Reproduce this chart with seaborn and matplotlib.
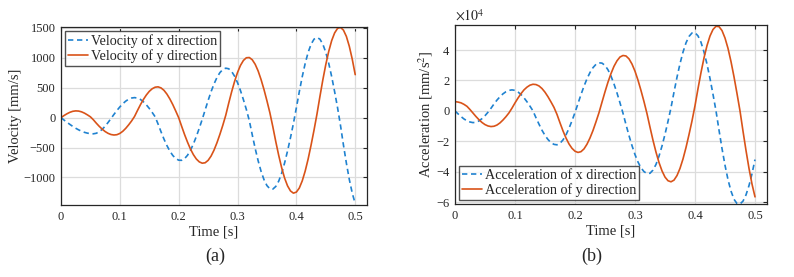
import numpy as np
import matplotlib
matplotlib.use("Agg")
import matplotlib.pyplot as plt
import seaborn as sns

time_s = np.round(np.arange(101) * 0.005, 3)

# velocity [mm/s]
vel_x = [0, -39, -76, -112, -146, -177, -204, -227, -246, -259,
         -267, -270, -261, -236, -196, -143, -81, -14, 54, 119,
         179, 232, 276, 308, 328, 335, 327, 304, 266, 215,
         155, 87, 15, -107, -236, -358, -466, -559, -632, -683,
         -711, -713, -685, -629, -546, -440, -315, -176, -29, 129,
         286, 433, 562, 670, 752, 805, 827, 817, 772, 693,
         585, 453, 301, 137, -48, -286, -514, -719, -897, -1037,
         -1136, -1189, -1194, -1150, -1061, -929, -757, -557, -334, -96,
         166, 434, 686, 907, 1091, 1227, 1312, 1340, 1312, 1227,
         1091, 907, 686, 434, 166, -131, -458, -761, -1035, -1263,
         -1438]
vel_y = [0, 34, 64, 89, 106, 113, 110, 97, 75, 46,
         14, -35, -92, -145, -192, -232, -262, -282, -290, -285,
         -264, -228, -179, -120, -55, 20, 120, 216, 303, 378,
         439, 483, 509, 515, 497, 457, 394, 313, 218, 111,
         0, -143, -282, -409, -524, -618, -691, -739, -761, -754,
         -714, -643, -544, -421, -280, -127, 40, 241, 432, 605,
         755, 873, 956, 1001, 1005, 968, 892, 781, 637, 469,
         281, 81, -152, -400, -631, -837, -1010, -1140, -1225, -1262,
         -1244, -1176, -1056, -892, -691, -458, -208, 59, 352, 633,
         888, 1108, 1288, 1416, 1492, 1509, 1463, 1357, 1191, 975,
         719]

# acceleration [x10^4 mm/s^2]
acc_x = [0, -0.19, -0.37, -0.53, -0.65, -0.73, -0.77, -0.75, -0.66, -0.51,
         -0.32, -0.09, 0.17, 0.45, 0.71, 0.93, 1.12, 1.26, 1.35, 1.38,
         1.35, 1.24, 1.08, 0.86, 0.60, 0.31, 0.00, -0.45, -0.87, -1.27,
         -1.61, -1.88, -2.09, -2.20, -2.23, -2.13, -1.91, -1.58, -1.15, -0.65,
         -0.11, 0.48, 1.07, 1.62, 2.11, 2.52, 2.84, 3.06, 3.16, 3.14,
         2.99, 2.70, 2.29, 1.77, 1.18, 0.53, -0.15, -0.90, -1.62, -2.28,
         -2.87, -3.36, -3.74, -3.99, -4.12, -4.10, -3.89, -3.52, -2.98, -2.31,
         -1.54, -0.69, 0.21, 1.23, 2.21, 3.10, 3.86, 4.47, 4.89, 5.12,
         5.14, 4.93, 4.51, 3.87, 3.07, 2.13, 1.09, 0.00, -1.26, -2.47,
         -3.57, -4.52, -5.27, -5.81, -6.09, -6.12, -5.93, -5.52, -4.91, -4.13,
         -3.20]
acc_y = [0.61, 0.58, 0.53, 0.43, 0.30, 0.09, -0.14, -0.37, -0.58, -0.76,
         -0.90, -0.99, -1.03, -1.01, -0.93, -0.79, -0.60, -0.38, -0.13, 0.18,
         0.52, 0.84, 1.13, 1.38, 1.56, 1.69, 1.75, 1.73, 1.64, 1.47,
         1.23, 0.93, 0.59, 0.23, -0.23, -0.78, -1.31, -1.78, -2.17, -2.46,
         -2.65, -2.73, -2.68, -2.50, -2.19, -1.78, -1.29, -0.72, -0.12, 0.57,
         1.25, 1.89, 2.45, 2.93, 3.29, 3.54, 3.64, 3.61, 3.42, 3.08,
         2.61, 2.02, 1.34, 0.61, -0.18, -1.07, -1.93, -2.71, -3.39, -3.94,
         -4.35, -4.59, -4.66, -4.55, -4.25, -3.78, -3.16, -2.41, -1.56, -0.66,
         0.34, 1.46, 2.52, 3.48, 4.29, 4.92, 5.35, 5.56, 5.54, 5.28,
         4.79, 4.11, 3.24, 2.24, 1.14, 0.00, -1.33, -2.60, -3.78, -4.81,
         -5.65]

x_ticks = [0, 0.1, 0.2, 0.3, 0.4, 0.5]
x_tick_labels = ["0", "0.1", "0.2", "0.3", "0.4", "0.5"]
vel_ticks = [-1000, -500, 0, 500, 1000, 1500]
acc_ticks = [-6, -4, -2, 0, 2, 4]

BLUE = "#1f82d0"
ORANGE = "#D95319"

sns.set_style("white")
plt.rcParams["font.family"] = ["Liberation Serif", "DejaVu Serif"]
plt.rcParams["mathtext.fontset"] = "stix"

fig = plt.figure(figsize=(7.94, 2.77), dpi=100)
ax1 = fig.add_axes([0.0768, 0.2599, 0.3854, 0.6426])
ax2 = fig.add_axes([0.5730, 0.2635, 0.3930, 0.6460])


def style_axes(ax):
    ax.grid(True, color="#dcdcdc", linewidth=0.9)
    ax.set_axisbelow(True)
    for s in ax.spines.values():
        s.set_color("#262626")
        s.set_linewidth(0.9)
    ax.tick_params(direction="in", length=3, width=0.8, top=True, right=True,
                   labelsize=9, colors="#262626", pad=4)
    ax.set_xticks(x_ticks)
    ax.set_xticklabels(x_tick_labels)
    ax.set_xlim(0, 0.52)


def style_legend(leg):
    leg.get_frame().set_edgecolor("#262626")
    leg.get_frame().set_linewidth(1.0)


# (a) velocity
sns.lineplot(x=time_s, y=vel_x, ax=ax1, color=BLUE, linewidth=1.2,
             label="Velocity of x direction")
ax1.lines[-1].set_dashes((3.2, 2.2))
sns.lineplot(x=time_s, y=vel_y, ax=ax1, color=ORANGE, linewidth=1.2,
             label="Velocity of y direction")
style_axes(ax1)
ax1.set_yticks(vel_ticks)
ax1.set_ylim(-1460, 1515)
ax1.set_xlabel("Time [s]", fontsize=10.5, labelpad=2)
ax1.set_ylabel("Velocity [mm/s]", fontsize=10.5, labelpad=1)
style_legend(ax1.legend(loc="upper left", fontsize=10.2, frameon=True, fancybox=False,
                        handlelength=1.4, handletextpad=0.2, borderpad=0.2,
                        labelspacing=0.1, borderaxespad=0.3))

# (b) acceleration
sns.lineplot(x=time_s, y=acc_x, ax=ax2, color=BLUE, linewidth=1.2,
             label="Acceleration of x direction")
ax2.lines[-1].set_dashes((3.2, 2.2))
sns.lineplot(x=time_s, y=acc_y, ax=ax2, color=ORANGE, linewidth=1.2,
             label="Acceleration of y direction")
style_axes(ax2)
ax2.set_yticks(acc_ticks)
ax2.set_ylim(-6.12, 5.64)
ax2.set_xlabel("Time [s]", fontsize=10.5, labelpad=2)
ax2.set_ylabel("Acceleration [mm/s$^2$]", fontsize=10.5, labelpad=1)
ax2.text(0.0, 1.01, r"$\times 10^4$", transform=ax2.transAxes, fontsize=10,
         color="#262626", ha="left", va="bottom")
style_legend(ax2.legend(loc="lower left", fontsize=10.2, frameon=True, fancybox=False,
                        handlelength=1.4, handletextpad=0.2, borderpad=0.2,
                        labelspacing=0.1, borderaxespad=0.3))

fig.text(0.271, 0.058, "(a)", fontsize=13, ha="center")
fig.text(0.745, 0.058, "(b)", fontsize=13, ha="center")

fig.savefig("out.png", dpi=100)
